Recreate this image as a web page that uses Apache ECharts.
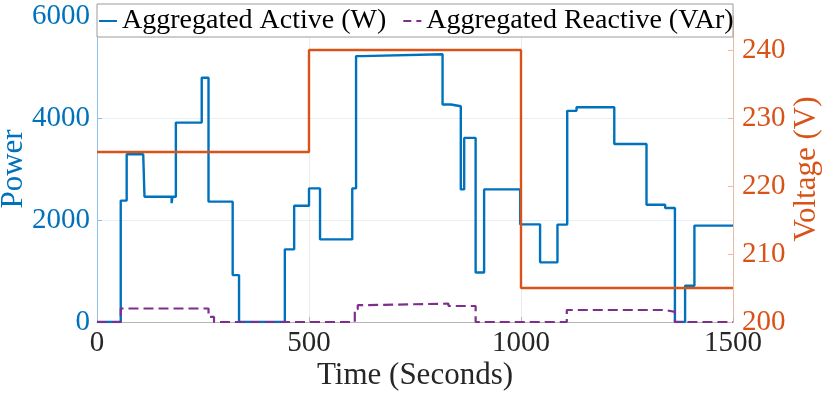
<!DOCTYPE html>
<html>
<head>
<meta charset="utf-8">
<title>Aggregated power and voltage</title>
<script src="https://cdn.jsdelivr.net/npm/echarts@6/dist/echarts.min.js"></script>
<style>
	html, body { margin: 0; padding: 0; background: #fff; }
	#main { width: 830px; height: 394px; }
</style>
</head>
<body>
<div id="main"></div>
<script>
// 有功功率 (step: value holds from time until next time)
var activeTime = [0, 56, 70, 109, 112, 176, 178, 186, 247, 263, 320, 335, 443, 465, 500, 526, 602, 611, 625, 815, 835, 858, 866, 893, 913, 998, 1045, 1086, 1109, 1131, 1220, 1296, 1340, 1363, 1387, 1409, 1500];
var activeValue = [0, 2380, 3290, 3310, 2455, 2330, 2455, 3910, 4790, 2360, 920, 0, 1425, 2280, 2620, 1620, 2620, 5214, 5250, 4265, 4230, 2600, 3610, 970, 2600, 1915, 1170, 1910, 4140, 4210, 3490, 2300, 2235, 0, 712, 1890, 1890];
// 无功功率
var reactiveTime = [0, 56, 263, 276, 608, 615, 625, 829, 893, 1108, 1340, 1363, 1500];
var reactiveValue = [0, 265, 100, 0, 250, 330, 360, 314, 0, 235, 200, 0, 0];
// 电压
var voltageTime = [0, 500, 1000, 1500];
var voltageValue = [225, 240, 205, 205];

var xTicks = [0, 500, 1000, 1500];
var powerTicks = [0, 2000, 4000, 6000];
var voltageTicks = [200, 210, 220, 230, 240];

(function () {
	function pairs(t, v) {
		var out = [];
		for (var i = 0; i < t.length; i++) {
			out.push([t[i], v[i]]);
		}
		return out;
	}
	function plain(v) {
		return String(v);
	}

	var blue = '#0072BD';
	var orange = '#D95319';
	var purple = '#7E2F8E';
	var font = '"Liberation Serif", "DejaVu Serif", serif';

	var myChart = echarts.init(document.getElementById('main'));
	var option = {
		animation: false,
		grid: {
			left: 97,
			right: 97,
			top: 16,
			bottom: 72,
			containLabel: false,
			outerBoundsMode: 'none'
		},
		graphic: [
			{
				type: 'rect',
				z: 10,
				shape: { x: 97, y: 4, width: 636, height: 33 },
				style: { fill: '#fff', stroke: '#9a9a9a', lineWidth: 1 }
			}
		],
		legend: {
			z: 20,
			left: 99,
			top: 7,
			padding: 0,
			itemGap: 17,
			itemWidth: 18,
			itemHeight: 2,
			data: [
				{ name: 'Aggregated Active (W)', icon: 'rect' },
				{ name: 'Aggregated Reactive (VAr)', icon: 'path://M0,0H8V2H0ZM13,0H18V2H13Z' }
			],
			textStyle: {
				fontFamily: font,
				fontSize: 28,
				color: '#000'
			}
		},
		xAxis: {
			type: 'value',
			min: xTicks[0],
			max: xTicks[xTicks.length - 1],
			interval: xTicks[1] - xTicks[0],
			name: 'Time (Seconds)',
			nameLocation: 'middle',
			nameGap: 38,
			nameMoveOverlap: false,
			nameTextStyle: {
				fontFamily: font,
				fontSize: 31,
				color: '#262626'
			},
			axisLine: {
				lineStyle: { color: '#b5b5b5' }
			},
			axisTick: {
				inside: true,
				length: 5,
				lineStyle: { color: '#b5b5b5' }
			},
			axisLabel: {
				fontFamily: font,
				fontSize: 29,
				color: '#262626',
				margin: 7,
				formatter: plain
			},
			splitLine: {
				show: true,
				lineStyle: { color: '#ececec' }
			}
		},
		yAxis: [
			{
				type: 'value',
				min: powerTicks[0],
				max: powerTicks[powerTicks.length - 1],
				interval: powerTicks[1] - powerTicks[0],
				name: 'Power',
				nameLocation: 'middle',
				nameGap: 68,
				nameMoveOverlap: false,
				nameTextStyle: {
					fontFamily: font,
					fontSize: 31,
					color: blue
				},
				axisLine: {
					show: true,
					lineStyle: { color: '#8fc0e3' }
				},
				axisTick: {
					show: true,
					inside: true,
					length: 5,
					lineStyle: { color: '#8fc0e3' }
				},
				axisLabel: {
					fontFamily: font,
					fontSize: 29,
					color: blue,
					margin: 7,
					formatter: plain
				},
				splitLine: {
					show: true,
					lineStyle: { color: '#e8f0f7' }
				}
			},
			{
				type: 'value',
				min: voltageTicks[0],
				max: 245,
				interval: voltageTicks[1] - voltageTicks[0],
				name: 'Voltage (V)',
				nameLocation: 'middle',
				nameGap: 58,
				nameMoveOverlap: false,
				nameTextStyle: {
					fontFamily: font,
					fontSize: 31,
					color: orange
				},
				axisLine: {
					show: true,
					lineStyle: { color: '#f0b9a1' }
				},
				axisTick: {
					show: true,
					inside: true,
					length: 5,
					lineStyle: { color: '#f0b9a1' }
				},
				axisLabel: {
					fontFamily: font,
					fontSize: 29,
					color: orange,
					margin: 9,
					showMaxLabel: false,
					formatter: plain
				},
				splitLine: {
					show: false
				}
			}
		],
		series: [
			{
				name: 'Aggregated Active (W)',
				type: 'line',
				step: 'end',
				yAxisIndex: 0,
				symbol: 'none',
				color: blue,
				lineStyle: { color: blue, width: 2.4 },
				data: pairs(activeTime, activeValue)
			},
			{
				name: 'Aggregated Reactive (VAr)',
				type: 'line',
				step: 'end',
				yAxisIndex: 0,
				symbol: 'none',
				color: purple,
				lineStyle: { color: purple, width: 2.2, type: [10, 5] },
				data: pairs(reactiveTime, reactiveValue)
			},
			{
				name: 'Voltage',
				type: 'line',
				step: 'end',
				yAxisIndex: 1,
				symbol: 'none',
				color: orange,
				lineStyle: { color: orange, width: 2.4 },
				data: pairs(voltageTime, voltageValue)
			}
		]
	};
	myChart.setOption(option);
	window.addEventListener('resize', function () {
		myChart.resize();
	});
})();
</script>
</body>
</html>
